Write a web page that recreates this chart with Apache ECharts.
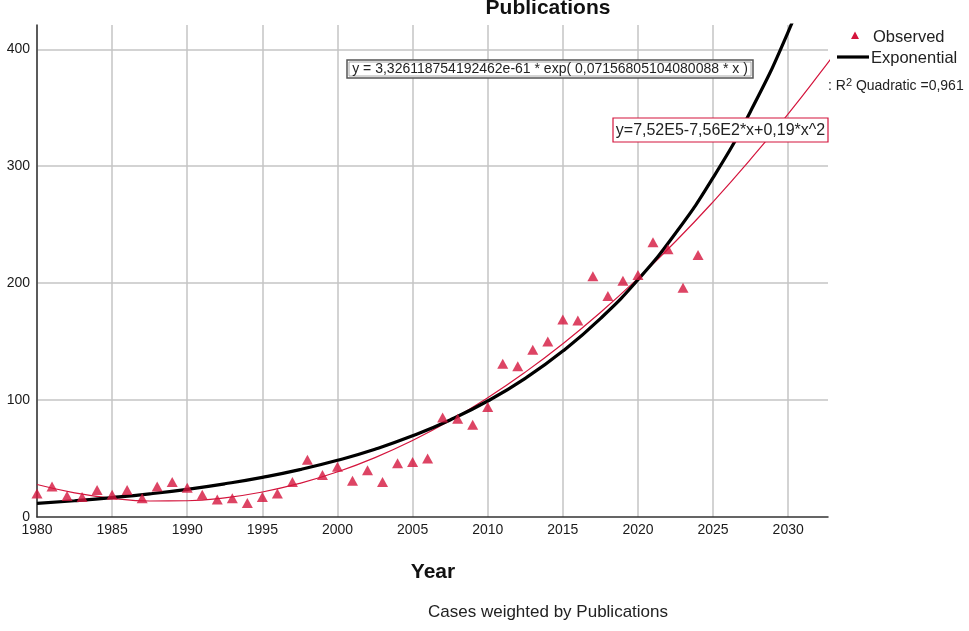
<!DOCTYPE html>
<html>
<head>
<meta charset="utf-8">
<title>Publications</title>
<script src="https://cdn.jsdelivr.net/npm/echarts@6/dist/echarts.min.js"></script>
<style>
  html, body { margin: 0; padding: 0; background: #fff; }
  #main { width: 969px; height: 631px; }
</style>
</head>
<body>
<div id="main"></div>
<script>
// observed counts per year
const years = [1980, 1981, 1982, 1983, 1984, 1985, 1986, 1987, 1988, 1989,
  1990, 1991, 1992, 1993, 1994, 1995, 1996, 1997, 1998, 1999,
  2000, 2001, 2002, 2003, 2004, 2005, 2006, 2007, 2008, 2009,
  2010, 2011, 2012, 2013, 2014, 2015, 2016, 2017, 2018, 2019,
  2020, 2021, 2022, 2023, 2024]
const observed = [20, 26, 18, 17, 23, 19, 23, 16, 26, 30,
  25, 19, 15, 16, 12, 17, 20, 30, 49, 36,
  43, 31, 40, 30, 46, 47, 50, 85, 84, 79,
  94, 131, 129, 143, 150, 169, 168, 206, 189, 202,
  207, 235, 229, 196, 224]

// fitted curves, every 2.5 years
const curveYears = [1980, 1982.5, 1985, 1987.5, 1990, 1992.5, 1995, 1997.5, 2000, 2002.5,
  2005, 2007.5, 2010, 2012.5, 2015, 2017.5, 2020, 2022.5, 2025, 2027.5, 2030, 2032.5, 2033]
const expCurve = [11.6, 13.9, 16.6, 19.8, 23.7, 28.4, 33.9, 40.5, 48.5, 58.0,
  69.4, 83.0, 99.2, 118.6, 141.9, 169.7, 202.9, 242.7, 290.2, 347.1, 415.0, 496, 513]
const quadCurve = [27.8, 20.7, 16.0, 13.7, 13.9, 16.4, 21.4, 28.8, 38.6, 50.8,
  65.5, 82.5, 102.0, 123.9, 148.2, 174.9, 204.1, 235.6, 269.6, 306.0, 344.8, 386.0, 394.6]

const xTicks = [1980, 2032.65]
const yTicks = [0, 420.8]

const RED = '#d4153d'
const FONT = '"Liberation Sans", Arial, sans-serif'

const chart = echarts.init(document.getElementById('main'))

//plain numbers, no thousands separator
const axisLabel = { color: '#1a1a1a', fontSize: 14, fontFamily: FONT, showMaxLabel: false,
  formatter: v => String(v) }
const splitLine = { show: true, showMaxLine: false, lineStyle: { color: '#c4c4c4', width: 1.5 } }

const option = {
  animation: false,
  grid: { left: 37, right: 141, top: 25, bottom: 114 },
  xAxis: {
    type: 'value',
    min: xTicks[0], max: xTicks[1], interval: 5,
    axisLine: { lineStyle: { color: '#333', width: 1.5 } },
    axisTick: { show: false },
    axisLabel: Object.assign({ margin: 6 }, axisLabel),
    splitLine: splitLine
  },
  yAxis: {
    type: 'value',
    min: yTicks[0], max: yTicks[1], interval: 100,
    axisLine: { show: true, lineStyle: { color: '#333', width: 1.5 } },
    axisTick: { show: false },
    axisLabel: Object.assign({ margin: 7 }, axisLabel),
    splitLine: Object.assign({ showMinLine: false }, splitLine)
  },
  series: [
    {
      name: 'Quadratic',
      type: 'line',
      smooth: true,
      showSymbol: false,
      clip: true,
      lineStyle: { color: RED, width: 1.2 },
      data: curveYears.map((x, i) => [x, quadCurve[i]]),
      z: 3
    },
    {
      name: 'Exponential',
      type: 'line',
      smooth: true,
      showSymbol: false,
      clip: true,
      lineStyle: { color: '#000', width: 3.2 },
      data: curveYears.map((x, i) => [x, expCurve[i]]),
      z: 4
    },
    {
      name: 'Observed',
      type: 'scatter',
      symbol: 'triangle',
      symbolSize: [11, 10],
      itemStyle: { color: RED },
      data: years.map((x, i) => [x, observed[i]]),
      z: 5
    }
  ],
  graphic: [
    // title
    { type: 'text', z: 100,
      style: { text: 'Publications', x: 548, y: 8, align: 'center', verticalAlign: 'middle',
        font: 'bold 21px ' + FONT, fill: '#111' } },
    // axis title + footnote
    { type: 'text', z: 100,
      style: { text: 'Year', x: 433, y: 572, align: 'center', verticalAlign: 'middle',
        font: 'bold 21px ' + FONT, fill: '#111' } },
    { type: 'text', z: 100,
      style: { text: 'Cases weighted by Publications', x: 548, y: 612, align: 'center', verticalAlign: 'middle',
        font: '17px ' + FONT, fill: '#222' } },
    // legend
    { type: 'polygon', z: 100,
      shape: { points: [[855, 31.5], [859, 39], [851, 39]] },
      style: { fill: RED } },
    { type: 'text', z: 100,
      style: { text: 'Observed', x: 873, y: 37, verticalAlign: 'middle', font: '16.5px ' + FONT, fill: '#222' } },
    { type: 'line', z: 100,
      shape: { x1: 837, y1: 57, x2: 869, y2: 57 },
      style: { stroke: '#000', lineWidth: 3.2 } },
    { type: 'text', z: 100,
      style: { text: 'Exponential', x: 871, y: 58, verticalAlign: 'middle', font: '16.5px ' + FONT, fill: '#222' } },
    { type: 'text', z: 100,
      style: {
        text: ': R{sup|2} Quadratic =0,961', x: 828, y: 86, verticalAlign: 'middle',
        font: '14px ' + FONT, fill: '#222',
        rich: { sup: { fontSize: 11, fontFamily: FONT, verticalAlign: 'top', padding: [0, 0, 7, 0], fill: '#222' } }
      } },
    // exponential equation box
    { type: 'rect', z: 100,
      shape: { x: 347, y: 60, width: 406, height: 18 },
      style: { fill: '#fff', stroke: '#555', lineWidth: 1.5 } },
    { type: 'rect', z: 101,
      shape: { x: 349, y: 62, width: 402, height: 14 },
      style: { fill: 'none', stroke: '#aaa', lineWidth: 1 } },
    { type: 'text', z: 102,
      style: { text: 'y = 3,326118754192462e-61 * exp( 0,07156805104080088 * x )', x: 550, y: 69.5,
        align: 'center', verticalAlign: 'middle', font: '14px ' + FONT, fill: '#222' } },
    // quadratic equation box
    { type: 'rect', z: 100,
      shape: { x: 613, y: 118, width: 215, height: 24 },
      style: { fill: '#fff', stroke: RED, lineWidth: 1.2 } },
    { type: 'text', z: 101,
      style: { text: 'y=7,52E5-7,56E2*x+0,19*x^2', x: 720.5, y: 130.5,
        align: 'center', verticalAlign: 'middle', font: '16px ' + FONT, fill: '#222' } }
  ]
}

option && chart.setOption(option)
</script>
</body>
</html>
